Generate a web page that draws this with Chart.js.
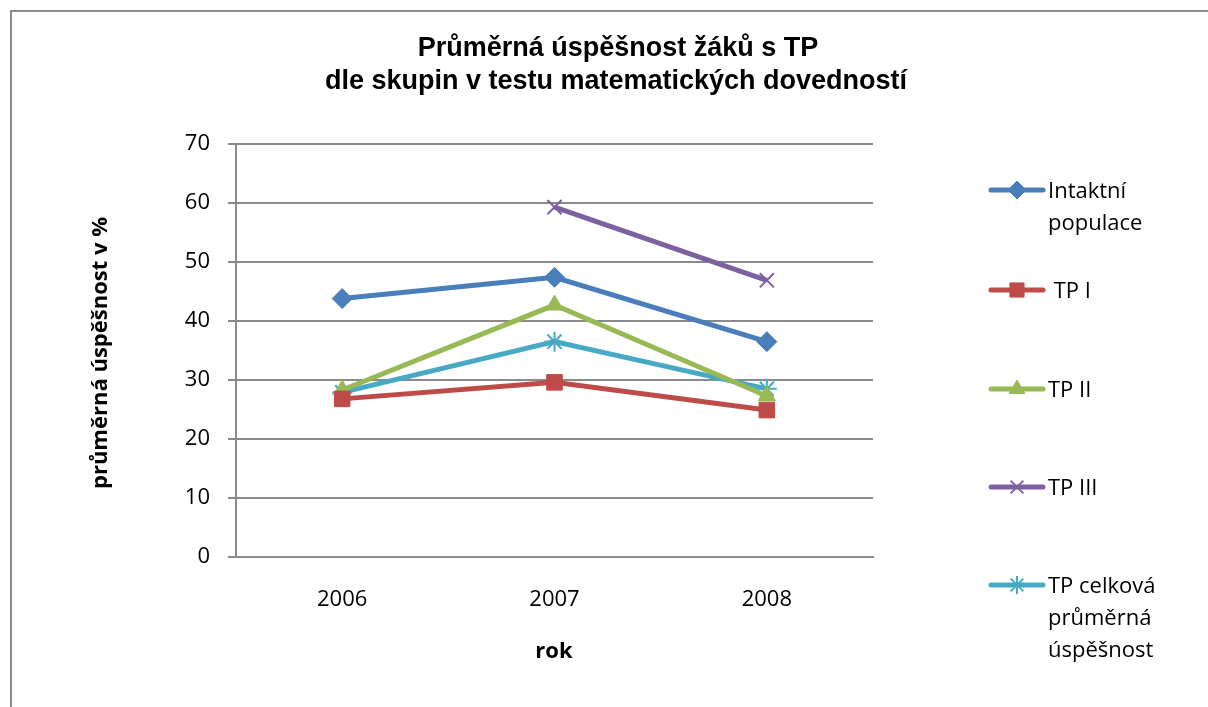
<!DOCTYPE html>
<html>
<head>
<meta charset="utf-8">
<script src="https://cdn.jsdelivr.net/npm/chart.js@4/dist/chart.umd.min.js"></script>
<style>
  html, body { margin: 0; padding: 0; background: #fff; overflow: hidden; }
  #frame { position: absolute; left: 10px; top: 10px; width: 1400px; height: 900px;
           border-left: 2px solid #8c8c8c; border-top: 2px solid #8c8c8c; }
  #chart { position: absolute; left: 0; top: 0; }
</style>
</head>
<body>
<div id="frame"></div>
<canvas id="chart" width="1208" height="707"></canvas>
<script>
// data
const years = ['2006', '2007', '2008'];
const intaktni = [43.8, 47.4, 36.5];
const tp1 = [26.8, 29.6, 24.9];
const tp2 = [28.3, 42.7, 27.3];
const tp3 = [null, 59.3, 46.9];
const tpCelkova = [27.9, 36.5, 28.5];

const seriesNames = ['Intaktní populace', ' TP I', 'TP II', 'TP III', 'TP celková průměrná úspěšnost'];
const legendLines = [['Intaktní', 'populace'], [' TP I'], ['TP II'], ['TP III'], ['TP celková', 'průměrná', 'úspěšnost']];
const titleLines = ['Průměrná úspěšnost žáků s TP', 'dle skupin v testu matematických dovedností'];
const yTitle = 'průměrná úspěšnost v %';
const xTitle = 'rok';

const textFont = '"Open Sans", Lato, sans-serif';
const gridGray = '#8a8a8a';

function series(label, data, color, style, radius, pbw) {
  return {
    label: label, data: data, borderColor: color, backgroundColor: color,
    borderWidth: 5, tension: 0, pointStyle: style, pointRadius: radius, pointHoverRadius: radius,
    pointBackgroundColor: color, pointBorderColor: color, pointBorderWidth: pbw
  };
}

const datasets = [
  series(seriesNames[0], intaktni, '#4a7ebb', 'rectRot', 10, 1),
  series(seriesNames[1], tp1, '#be4b48', 'rect', 11, 1),
  series(seriesNames[2], tp2, '#98b954', 'triangle', 10, 1),
  series(seriesNames[3], tp3, '#7d60a0', 'crossRot', 10, 2),
  series(seriesNames[4], tpCelkova, '#46aac5', 'star', 10, 2)
];

// title, axis titles and the right-hand legend
const overlay = {
  id: 'overlay',
  afterDraw(chart) {
    const ctx = chart.ctx;
    ctx.save();
    ctx.fillStyle = '#000';
    ctx.textAlign = 'center';
    ctx.textBaseline = 'middle';
    ctx.font = 'bold 27px "Liberation Sans", Arial, sans-serif';
    ctx.fillText(titleLines[0], 618, 49);
    ctx.fillText(titleLines[1], 616, 82);

    ctx.font = 'bold 22px ' + textFont;
    ctx.fillText(xTitle, 554, 652);
    ctx.save();
    ctx.translate(101, 353);
    ctx.rotate(-Math.PI / 2);
    ctx.fillText(yTitle, 0, 0);
    ctx.restore();

    const rowY = [190, 290, 389, 487, 585];
    chart.data.datasets.forEach((ds, i) => {
      const y = rowY[i];
      ctx.strokeStyle = ds.borderColor;
      ctx.lineWidth = 5;
      ctx.lineCap = 'round';
      ctx.beginPath();
      ctx.moveTo(991, y);
      ctx.lineTo(1043, y);
      ctx.stroke();
      ctx.lineCap = 'butt';
      ctx.fillStyle = ds.pointBackgroundColor;
      ctx.strokeStyle = ds.pointBorderColor;
      ctx.lineWidth = ds.pointBorderWidth;
      Chart.helpers.drawPoint(ctx, { pointStyle: ds.pointStyle, radius: ds.pointRadius - 1, borderWidth: ds.pointBorderWidth, rotation: 0 }, 1017, y);
      ctx.fillStyle = '#000';
      ctx.textAlign = 'left';
      ctx.font = '22px ' + textFont;
      legendLines[i].forEach((t, k) => ctx.fillText(t, 1048, y + 2 + k * 32));
    });
    ctx.restore();
  }
};

new Chart(document.getElementById('chart'), {
  type: 'line',
  data: { labels: years, datasets: datasets },
  plugins: [overlay],
  options: {
    responsive: false,
    animation: false,
    devicePixelRatio: 1,
    layout: { padding: { left: 0, top: 144, right: 335, bottom: 0 } },
    plugins: { legend: { display: false }, title: { display: false }, tooltip: { enabled: false } },
    scales: {
      x: {
        offset: true,
        afterFit: (s) => { s.height = 150; },
        grid: { display: false, drawTicks: false },
        border: { display: true, color: gridGray, width: 2 },
        ticks: { color: '#000', font: { size: 22, family: textFont }, padding: 30 }
      },
      y: {
        min: 0, max: 70,
        afterFit: (s) => { s.width = 236; },
        grid: { color: gridGray, lineWidth: 2, tickLength: 8 },
        border: { display: true, color: gridGray, width: 2 },
        ticks: { stepSize: 10, color: '#000', font: { size: 22, family: textFont }, padding: 18 }
      }
    }
  }
});
</script>
</body>
</html>
